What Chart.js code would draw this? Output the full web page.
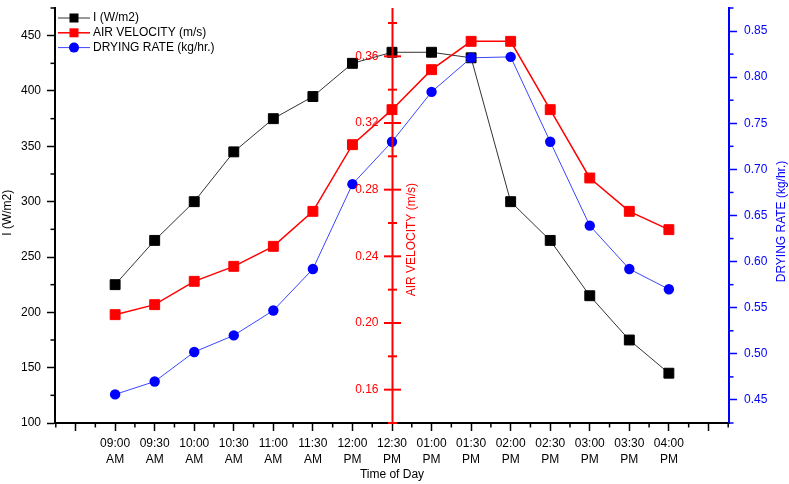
<!DOCTYPE html>
<html>
<head>
<meta charset="utf-8">
<script src="https://cdn.jsdelivr.net/npm/chart.js@4.4.0/dist/chart.umd.min.js"></script>
<style>
  html, body { margin: 0; padding: 0; background: #fff; }
</style>
</head>
<body>
<canvas id="chart" width="789" height="484"></canvas>
<script>
// time of day (x categories)
const timeLabels = [
  ["09:00", "AM"], ["09:30", "AM"], ["10:00", "AM"], ["10:30", "AM"], ["11:00", "AM"],
  ["11:30", "AM"], ["12:00", "PM"], ["12:30", "PM"], ["01:00", "PM"], ["01:30", "PM"],
  ["02:00", "PM"], ["02:30", "PM"], ["03:00", "PM"], ["03:30", "PM"], ["04:00", "PM"]
];

// measured series
const irradiance = [225, 265, 300, 345, 375, 395, 425, 435, 435, 430, 300, 265, 215, 175, 145];
const airVelocity = [0.205, 0.211, 0.225, 0.234, 0.246, 0.267, 0.307, 0.328, 0.352, 0.369, 0.369, 0.328, 0.287, 0.267, 0.256];
const dryingRate = [0.456, 0.470, 0.502, 0.520, 0.547, 0.592, 0.684, 0.730, 0.784, 0.821, 0.822, 0.730, 0.639, 0.592, 0.570];

// axis ranges
const timeRange = [-1.52, 15.52];
const irrRange = [100, 475];
const airRange = [0.14, 0.389];
const dryRange = [0.425, 0.875];
const airAxisAt = 7; // air velocity axis crosses at 12:30 PM

const FONT = "'Liberation Sans', Arial, sans-serif";
const RED = "#ff0000";
const BLUE = "#0000ff";

function toPoints(arr) {
  return arr.map((v, i) => ({ x: i, y: v }));
}

function noPad(s) {
  s.paddingTop = 0;
  s.paddingBottom = 0;
  s.paddingLeft = 0;
  s.paddingRight = 0;
}

function vText(ctx, text, x, y) {
  ctx.save();
  ctx.translate(x, y);
  ctx.rotate(-Math.PI / 2);
  ctx.textAlign = "center";
  ctx.textBaseline = "middle";
  ctx.fillText(text, 0, 0);
  ctx.restore();
}

// minor ticks, the floating air velocity axis, y titles and the legend
const extras = {
  id: "extras",
  afterDraw(chart) {
    const ctx = chart.ctx;
    const { x, y, yAir, yDry } = chart.scales;
    const area = chart.chartArea;
    ctx.save();

    // minor ticks
    ctx.lineWidth = 1.5;
    ctx.strokeStyle = "#000";
    x.ticks.forEach(t => {
      if (Number.isInteger(t.value)) return;
      const px = x.getPixelForValue(t.value);
      ctx.beginPath(); ctx.moveTo(px, area.bottom); ctx.lineTo(px, area.bottom + 4.5); ctx.stroke();
    });
    y.ticks.forEach(t => {
      if (t.value % 50 === 0) return;
      const py = y.getPixelForValue(t.value);
      ctx.beginPath(); ctx.moveTo(area.left - 4.5, py); ctx.lineTo(area.left, py); ctx.stroke();
    });
    ctx.strokeStyle = BLUE;
    yDry.ticks.forEach(t => {
      if (Math.round(t.value * 1000) % 50 === 0) return;
      const py = yDry.getPixelForValue(t.value);
      ctx.beginPath(); ctx.moveTo(area.right, py); ctx.lineTo(area.right + 4.5, py); ctx.stroke();
    });

    // y axis titles, reading upwards
    ctx.font = "12px " + FONT;
    ctx.fillStyle = "#000";
    vText(ctx, "I (W/m2)", area.left - 47, y.getPixelForValue(290));
    ctx.fillStyle = BLUE;
    vText(ctx, "DRYING RATE (kg/hr.)", area.right + 53, (area.top + area.bottom) / 2 + 6);

    // air velocity axis
    const ax = Math.round(x.getPixelForValue(airAxisAt)) + 0.5;
    ctx.strokeStyle = RED;
    ctx.fillStyle = RED;
    ctx.lineWidth = 2;
    ctx.beginPath(); ctx.moveTo(ax, area.top); ctx.lineTo(ax, area.bottom); ctx.stroke();
    ctx.textAlign = "right";
    ctx.textBaseline = "middle";
    yAir.ticks.forEach(t => {
      const py = yAir.getPixelForValue(t.value);
      const major = Math.round(t.value * 100) % 4 === 0;
      const half = major ? 8.5 : 4.5;
      ctx.beginPath(); ctx.moveTo(ax - half, py); ctx.lineTo(ax + half, py); ctx.stroke();
      if (major) ctx.fillText(t.value.toFixed(2), ax - 14, py);
    });
    vText(ctx, "AIR VELOCITY (m/s)", ax + 19.5, yAir.getPixelForValue(0.25));

    // legend
    ctx.textAlign = "left";
    ctx.textBaseline = "middle";
    chart.data.datasets.forEach((ds, i) => {
      const cy = area.top + 10 + i * 14.8;
      const lx = area.left + 3;
      ctx.strokeStyle = ds.borderColor;
      ctx.lineWidth = ds.borderWidth;
      ctx.beginPath(); ctx.moveTo(lx, cy); ctx.lineTo(lx + 32, cy); ctx.stroke();
      ctx.fillStyle = ds.pointBackgroundColor;
      if (ds.pointStyle === "circle") {
        ctx.beginPath(); ctx.arc(lx + 16, cy, 5, 0, Math.PI * 2); ctx.fill();
      } else {
        ctx.fillRect(lx + 11.5, cy - 4.5, 9, 9);
      }
      ctx.fillStyle = "#000";
      ctx.fillText(ds.label, lx + 35, cy);
    });

    ctx.restore();
  }
};

new Chart(document.getElementById("chart"), {
  type: "line",
  data: {
    datasets: [
      {
        label: "I (W/m2)",
        data: toPoints(irradiance),
        yAxisID: "y",
        borderColor: "#333333",
        borderWidth: 1,
        pointStyle: "rect",
        pointRadius: 7,
        pointBackgroundColor: "#000000",
        pointBorderColor: "#000000",
        pointBorderWidth: 1,
        order: 2
      },
      {
        label: "AIR VELOCITY (m/s)",
        data: toPoints(airVelocity),
        yAxisID: "yAir",
        borderColor: RED,
        borderWidth: 1.5,
        pointStyle: "rect",
        pointRadius: 7,
        pointBackgroundColor: RED,
        pointBorderColor: RED,
        pointBorderWidth: 1,
        order: 1
      },
      {
        label: "DRYING RATE (kg/hr.)",
        data: toPoints(dryingRate),
        yAxisID: "yDry",
        borderColor: "#3a46ff",
        borderWidth: 1,
        pointStyle: "circle",
        pointRadius: 5.2,
        pointBackgroundColor: BLUE,
        pointBorderColor: BLUE,
        pointBorderWidth: 0,
        order: 0
      }
    ]
  },
  options: {
    responsive: false,
    animation: false,
    devicePixelRatio: 1,
    clip: false,
    layout: { padding: { top: 2, left: 0, right: 0, bottom: 0 } },
    plugins: {
      legend: { display: false },
      tooltip: { enabled: false }
    },
    scales: {
      x: {
        type: "linear",
        position: "bottom",
        min: timeRange[0],
        max: timeRange[1],
        afterFit: s => { s.height = 61; noPad(s); },
        border: { color: "#000", width: 2 },
        grid: {
          drawOnChartArea: false,
          tickLength: 8,
          tickWidth: 1.5,
          tickColor: c => (c.tick && Number.isInteger(c.tick.value)) ? "#000" : "transparent"
        },
        ticks: {
          stepSize: 0.5,
          includeBounds: false,
          autoSkip: false,
          maxRotation: 0,
          minRotation: 0,
          padding: 5,
          color: "#000",
          font: { family: FONT, size: 12, lineHeight: 1.33 },
          callback: v => (Number.isInteger(v) && v >= 0 && v < timeLabels.length) ? timeLabels[v] : ""
        },
        title: {
          display: true,
          text: "Time of Day",
          color: "#000",
          font: { family: FONT, size: 12 },
          padding: { top: 0, bottom: 2 }
        }
      },
      y: {
        type: "linear",
        position: "left",
        min: irrRange[0],
        max: irrRange[1],
        afterFit: s => { s.width = 55; noPad(s); },
        border: { color: "#000", width: 2 },
        grid: {
          drawOnChartArea: false,
          tickLength: 8,
          tickWidth: 1.5,
          tickColor: c => (c.tick && c.tick.value % 50 === 0) ? "#000" : "transparent"
        },
        ticks: {
          stepSize: 25,
          includeBounds: false,
          padding: 6,
          color: "#000",
          font: { family: FONT, size: 12 },
          callback: v => v % 50 === 0 ? String(v) : ""
        }
      },
      yAir: {
        type: "linear",
        display: false,
        min: airRange[0],
        max: airRange[1],
        ticks: { stepSize: 0.02, includeBounds: false }
      },
      yDry: {
        type: "linear",
        position: "right",
        min: dryRange[0],
        max: dryRange[1],
        afterFit: s => { s.width = 60; noPad(s); },
        border: { color: BLUE, width: 2 },
        grid: {
          drawOnChartArea: false,
          tickLength: 8,
          tickWidth: 1.5,
          tickColor: c => (c.tick && Math.round(c.tick.value * 1000) % 50 === 0) ? BLUE : "transparent"
        },
        ticks: {
          stepSize: 0.025,
          includeBounds: false,
          padding: 7,
          color: BLUE,
          font: { family: FONT, size: 12 },
          callback: v => Math.round(v * 1000) % 50 === 0 ? v.toFixed(2) : ""
        }
      }
    }
  },
  plugins: [extras]
});
</script>
</body>
</html>
